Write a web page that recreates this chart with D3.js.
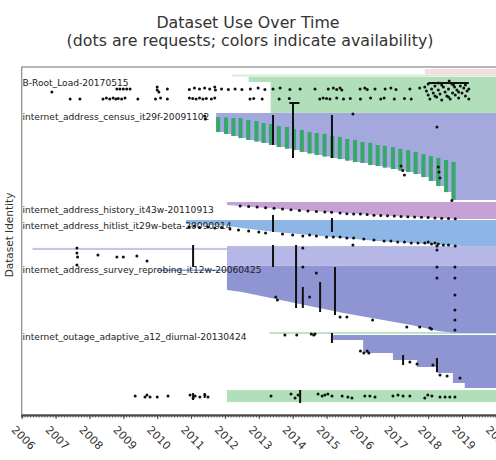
<!DOCTYPE html>
<html><head><meta charset="utf-8">
<script src="https://cdn.jsdelivr.net/npm/d3@7/dist/d3.min.js"></script>
<style>body{margin:0;background:#fff}svg{display:block}text{font-family:"DejaVu Sans",sans-serif}</style>
</head><body>
<svg id="chart" width="496" height="460"></svg>
<script>
// ---------- data ----------
const years = [2006,2007,2008,2009,2010,2011,2012,2013,2014,2015,2016,2017,2018,2019,2020];
const datasetLabels = ["B-Root_Load-20170515","internet_address_census_it29f-20091102","internet_address_history_it43w-20110913","internet_address_hitlist_it29w-beta-20090914","internet_address_survey_reprobing_it12w-20060425","internet_outage_adaptive_a12_diurnal-20130424"];
const labelRows = [5.3, 16.7, 47.7, 53.0, 67.7, 90.0];

// flat availability bands: [start, topRow, bottomRow, kind]
const flatBands = [
  [2012.2, 2.5, 3.2, "faint"],
  [2017.9, 0.7, 2.5, "pink"],
  [2012.7, 3.3, 5.0, "green"],
  [2013.35, 5.0, 15.3, "green"],
  [2006.32, 60.3, 61.0, "lavenderLine"],
  [2010.0, 67.5, 68.0, "blueLine"],
  [2012.06, 59.7, 66.3, "lavender"],
  [2013.31, 88.3, 89.0, "greenLine"],
  [2012.06, 107.7, 111.7, "green"]
];

// census versions: release date, bar top row, bottom row
const censusDates = [2011.74,2011.97,2012.19,2012.40,2012.63,2012.87,2013.08,2013.30,2013.53,2013.77,2013.98,2014.21,2014.44,2014.65,2014.88,2015.11,2015.33,2015.55,2015.78,2016.00,2016.23,2016.45,2016.66,2016.90,2017.12,2017.35,2017.57,2017.80,2018.02,2018.24,2018.47,2018.69];
const censusBarTop = [16.7,16.8,17.0,17.0,17.7,18.0,18.7,19.0,19.7,20.0,20.7,21.0,21.7,22.0,22.3,23.0,23.3,24.0,24.3,25.0,25.3,26.0,26.3,26.7,27.3,27.7,28.3,29.0,29.7,30.3,31.0,31.7];
const censusBottom = [21.7,22.3,23.0,23.7,24.3,24.8,25.3,26.0,26.7,27.2,27.7,28.3,28.8,29.3,29.8,30.3,30.7,31.2,31.7,32.0,32.7,33.0,33.5,34.0,34.5,35.0,35.7,36.7,38.0,39.7,41.7,44.3];
const censusTop = 15.3;

// sloped availability edges: [date, bottomRow]
const historyTop = 45.0;
const historyEdge = [[2012.06,46.0],[2013.0,46.8],[2014.0,47.6],[2015.0,48.3],[2016.0,49.0],[2017.0,49.7],[2018.0,50.2],[2018.9,50.7]];
const hitlistTop = 51.0;
const hitlistEdge = [[2010.85,52.3],[2012.0,52.8],[2012.5,53.7],[2013.5,55.0],[2014.5,56.0],[2015.5,57.0],[2016.5,58.0],[2017.5,58.7],[2018.5,59.3],[2019.0,59.7]];
const surveyTop = 66.3;
const surveyEdge = [[2012.06,74.3],[2012.5,75.0],[2013.5,77.3],[2014.5,79.7],[2015.5,82.0],[2016.5,84.0],[2017.5,86.0],[2018.3,88.0],[2018.8,88.7]];
const outageTop = 89.3;
const outageEdge = [[2015.19,91.0],[2016.08,95.3],[2016.96,97.7],[2017.67,100.0],[2018.26,102.0],[2018.73,105.3],[2019.08,107.0]];

// requests (dots): [date, row]
const brootRequests = [[2006.89,8.3],[2008.81,7.3],[2008.9,7.3],[2009.0,7.3],[2009.1,7.3],[2009.2,7.3],[2010.0,6.7],[2010.0,7.7],[2010.05,8.3],[2010.3,7.3],[2010.95,7.5],[2011.1,7.0],[2011.25,7.3],[2011.4,7.0],[2011.55,7.3],[2011.7,6.7],[2011.72,7.7],[2011.9,7.3],[2012.1,7.5],[2012.3,7.3],[2012.5,7.5],[2012.75,7.3],[2012.98,7.0],[2013.18,7.5],[2013.42,7.3],[2013.63,7.0],[2013.92,7.5],[2014.22,7.3],[2014.66,7.3],[2015.05,7.3],[2015.2,7.0],[2015.3,7.5],[2015.4,7.0],[2015.45,7.7],[2015.99,7.3],[2016.13,7.0],[2016.2,7.5],[2016.43,7.3],[2016.73,7.3],[2016.9,7.0],[2017.05,7.5],[2017.46,7.3],[2017.75,7.0],
 [2007.43,10.7],[2007.72,10.7],[2008.40,10.7],[2008.5,10.3],[2008.6,10.7],[2008.7,10.3],[2008.78,10.7],[2008.85,10.5],[2008.95,10.7],[2009.05,10.3],[2009.43,10.7],[2009.95,10.7],[2010.1,10.3],[2010.3,10.7],[2010.95,10.3],[2011.05,10.5],[2011.15,10.7],[2011.25,10.3],[2011.35,10.7],[2011.45,10.5],[2011.6,10.7],[2011.7,10.3],[2012.74,10.7],[2012.85,10.5],[2013.1,10.7],[2013.6,10.7],[2013.9,10.5],[2014.8,10.7],[2014.9,10.3],[2015.0,10.5],[2015.1,10.7],[2015.3,10.3],[2015.5,10.7],[2015.7,10.5],[2016.0,10.7],[2016.3,10.3],[2016.6,10.7],[2016.7,10.3],[2017.0,10.7],[2017.3,10.5],[2017.5,10.7],
 [2017.9,6.7],[2017.95,8.0],[2018.0,9.3],[2018.05,10.7],[2018.1,7.3],[2018.15,8.7],[2018.2,6.3],[2018.25,10.0],[2018.3,7.7],[2018.35,9.0],[2018.4,11.0],[2018.45,6.7],[2018.5,8.3],[2018.55,9.7],[2018.6,7.3],[2018.65,10.7],[2018.7,5.7],[2018.72,8.7],[2018.78,6.7],[2018.8,9.3],[2018.85,7.7],[2018.9,10.3],[2018.95,6.3],[2019.0,8.7],[2019.05,7.0],[2019.1,9.7],[2019.15,8.0],[2019.2,10.7],[2018.62,4.7],[2018.3,5.3],[2018.0,5.7],[2018.4,6.0],[2018.75,6.0],[2019.1,6.0],[2018.2,9.7],[2018.6,10.0],[2018.9,8.3],[2019.2,7.3]];
const censusRequests = [[2015.78,15.7],[2018.26,20.0],[2017.2,33.0],[2017.25,34.5],[2017.3,36.0],[2018.3,33.3],[2018.32,35.0],[2018.35,37.0],[2018.7,44.5],[2011.4,16.3],[2011.42,17.3]];
const historyRequests = [[2012.45,46.3],[2012.7,46.5],[2012.95,46.7],[2013.2,46.9],[2013.45,47.1],[2013.7,47.3],[2013.95,47.6],[2014.2,47.8],[2014.45,48.0],[2014.7,48.2],[2014.95,48.3],[2015.15,48.4],[2015.4,48.7],[2015.6,48.9],[2015.8,49.0],[2016.0,49.0],[2016.2,49.2],[2016.4,49.4],[2016.6,49.5],[2016.8,49.6],[2017.0,49.7],[2017.2,49.8],[2017.4,49.9],[2017.6,50.0],[2017.8,50.1],[2018.0,50.2],[2018.2,50.3],[2018.4,50.4],[2018.6,50.5],[2018.8,50.6]];
const hitlistRequests = [[2010.95,53.3],[2011.1,53.0],[2011.25,53.5],[2011.5,53.3],[2011.7,53.7],[2011.9,53.5],[2012.15,54.0],[2012.4,54.3],[2012.7,54.7],[2013.0,55.0],[2013.2,55.3],[2013.7,55.7],[2014.0,56.0],[2014.3,56.3],[2014.5,56.0],[2014.7,56.3],[2015.0,56.7],[2015.2,56.7],[2015.4,56.7],[2015.6,57.0],[2015.8,57.0],[2016.1,57.3],[2016.4,57.7],[2016.7,58.0],[2016.9,58.0],[2017.1,58.3],[2017.3,58.3],[2017.5,58.7],[2017.7,58.7],[2017.9,58.7],[2018.0,58.3],[2018.1,59.0],[2018.2,58.7],[2018.3,59.0],[2018.45,59.3],[2018.6,59.3],[2018.8,59.7],[2015.78,59.3],[2018.26,59.7]];
const surveyRequests = [[2007.63,60.3],[2007.63,62.0],[2007.65,63.3],[2007.63,66.0],[2008.25,62.7],[2008.81,63.3],[2009.0,63.3],[2009.4,63.0],[2009.7,64.7],[2018.26,61.0],[2018.26,66.7],[2018.26,70.3],[2018.79,66.7],[2018.79,70.3],[2018.79,76.0],[2018.79,81.0],[2018.79,84.3],[2018.79,87.7],[2015.4,83.3],[2015.6,83.3],[2016.36,84.3],[2017.37,86.7],[2017.75,86.7],[2018.05,87.0],[2018.1,87.3],[2013.5,76.7],[2013.55,77.7],[2014.5,76.7],[2014.7,68.7],[2014.3,60.3],[2014.3,66.7]];
const outageRequests = [[2013.77,89.3],[2014.12,89.3],[2014.55,89.0],[2014.62,89.3],[2014.66,89.0],[2016.0,94.7],[2016.1,95.3],[2016.2,94.7],[2016.25,95.3],[2017.46,98.3],[2017.67,99.0],[2018.14,99.3],[2018.35,102.7],[2018.56,103.0],[2018.94,103.7]];
const bottomRequests = [[2009.35,109.7],[2009.64,110.0],[2009.70,109.3],[2009.79,110.0],[2010.0,110.0],[2010.32,109.7],[2010.97,109.3],[2011.06,110.3],[2011.12,109.7],[2011.26,110.0],[2011.41,109.3],[2011.50,110.0],[2013.36,109.7],[2013.95,109.0],[2014.07,110.3],[2014.16,109.3],[2014.75,109.0],[2014.87,109.7],[2014.95,109.3],[2015.04,109.0],[2015.16,109.7],[2015.46,109.7],[2015.63,110.0],[2015.75,110.3],[2016.13,109.7],[2016.28,109.7],[2016.43,110.0],[2016.96,109.7],[2017.11,109.3],[2017.26,109.7],[2017.46,109.7],[2017.9,110.3],[2017.99,109.3],[2018.11,109.7],[2018.35,110.0],[2018.5,110.0],[2018.64,110.0],[2018.79,110.0]];

// bursts of requests drawn as strokes: [date1, row1, date2, row2]
const requestBursts = [[2013.42,16,2013.42,26],[2014.01,12,2014.01,30.3],[2013.9,12,2014.2,12],[2015.16,16,2015.16,30.3],
 [2013.42,49.3,2013.42,55],[2015.16,50.3,2015.16,55],
 [2011.06,59.3,2011.06,66.7],[2013.42,59.3,2013.42,66.7],[2014.1,59.3,2014.1,80.3],[2014.3,73.3,2014.3,80.3],[2014.81,71.7,2014.81,81.7],[2015.25,66.7,2015.25,82.7],
 [2015.16,88.7,2015.16,92],[2017.26,96,2017.26,99.3],[2018.26,97,2018.26,101.7],
 [2014.22,107.7,2014.22,112],[2011.06,108.7,2011.06,111],[2011.4,108.7,2011.4,110.3],
 [2018.0,5.3,2019.2,5.3]];

// ---------- styles ----------
const colors = {faint:"#d6edda", pink:"#f6dcdf", green:"#b0dfba", lavenderLine:"#c3c5ef", blueLine:"#8d9fe4",
  lavender:"#b5b7e6", greenLine:"#bde5c6", census:"#a3a8dd", censusBar:"#35a86a", history:"#c7a1d6",
  hitlist:"#8db5e5", survey:"#8f94d3", outage:"#8f94d3"};

// ---------- drawing ----------
const svg = d3.select("#chart");
const x = d3.scaleLinear().domain([2006, 2020]).range([21.7, 495.9]);
const y = d3.scaleLinear().domain([0, 116]).range([67, 415]);
const END = 2020.5;

svg.append("text").attr("x",248).attr("y",28).attr("text-anchor","middle").attr("font-size",15.8).attr("fill","#333").text("Dataset Use Over Time");
svg.append("text").attr("x",250).attr("y",46).attr("text-anchor","middle").attr("font-size",15.8).attr("fill","#333").text("(dots are requests; colors indicate availability)");

const plot = svg.append("g");
plot.append("clipPath").attr("id","clip").append("rect").attr("x",21.7).attr("y",67).attr("width",480).attr("height",348);
const g = plot.append("g").attr("clip-path","url(#clip)");

// flat bands
g.selectAll("rect.flat").data(flatBands).join("rect").attr("class","flat")
  .attr("x",d=>x(d[0])).attr("width",d=>x(END)-x(d[0]))
  .attr("y",d=>y(d[1])).attr("height",d=>y(d[2])-y(d[1]))
  .attr("fill",d=>colors[d[3]]);

// census staircase
const censusPts = censusDates.map((d,i)=>[d, censusBottom[i]]).concat([[END, censusBottom[censusBottom.length-1]]]);
const areaStep = top => d3.area().x(d=>x(d[0])).y0(y(top)).y1(d=>y(d[1])).curve(d3.curveStepAfter);
const areaLin = top => d3.area().x(d=>x(d[0])).y0(y(top)).y1(d=>y(d[1]));
g.append("path").datum(censusPts).attr("d",areaStep(censusTop)).attr("fill",colors.census);
g.selectAll("rect.cbar").data(censusDates).join("rect").attr("class","cbar")
  .attr("x",d=>x(d)).attr("width",x(2006.12)-x(2006))
  .attr("y",(d,i)=>y(censusBarTop[i])).attr("height",(d,i)=>y(censusBottom[i])-y(censusBarTop[i]))
  .attr("fill",colors.censusBar);

const withEnd = e => e.concat([[END, e[e.length-1][1]]]);
g.append("path").datum(withEnd(historyEdge)).attr("d",areaLin(historyTop)).attr("fill",colors.history);
g.append("path").datum(withEnd(hitlistEdge)).attr("d",areaLin(hitlistTop)).attr("fill",colors.hitlist);
g.append("path").datum(withEnd(surveyEdge)).attr("d",areaLin(surveyTop)).attr("fill",colors.survey);
g.append("path").datum(withEnd(outageEdge)).attr("d",areaStep(outageTop)).attr("fill",colors.outage);

// dataset labels
g.selectAll("text.lab").data(datasetLabels).join("text").attr("class","lab")
  .attr("x",22.5).attr("y",(d,i)=>y(labelRows[i])).attr("dy","0.35em")
  .attr("font-size",9.1).attr("fill","#222").text(d=>d);

// request bursts and dots
g.selectAll("line.burst").data(requestBursts).join("line").attr("class","burst")
  .attr("x1",d=>x(d[0])).attr("y1",d=>y(d[1])).attr("x2",d=>x(d[2])).attr("y2",d=>y(d[3]))
  .attr("stroke","#111").attr("stroke-width",2);
const allRequests = [].concat(brootRequests, censusRequests, historyRequests, hitlistRequests, surveyRequests, outageRequests, bottomRequests);
g.selectAll("circle.req").data(allRequests).join("circle").attr("class","req")
  .attr("cx",d=>x(d[0])).attr("cy",d=>y(d[1])).attr("r",1.5).attr("fill","#111");

// frame
svg.append("rect").attr("x",21.7).attr("y",67).attr("width",490).attr("height",348)
  .attr("fill","none").attr("stroke","#888").attr("stroke-width",1.2);

// x axis with minor monthly ticks
const minor = d3.range(2006, 2020.5, 1/12);
svg.append("g").attr("transform","translate(0,415)")
  .call(d3.axisBottom(x).tickValues(minor).tickSize(2.5).tickFormat(""))
  .call(s=>s.selectAll("line").attr("stroke","#555"))
  .call(s=>s.select(".domain").attr("stroke","#444").attr("stroke-width",2));
const ax = svg.append("g").attr("transform","translate(0,415)")
  .call(d3.axisBottom(x).tickValues(years).tickSize(4).tickFormat(d3.format("d")));
ax.select(".domain").remove();
ax.selectAll("line").attr("stroke","#444");
ax.selectAll("text").attr("font-size",11).attr("fill","#333").attr("font-family","DejaVu Sans")
  .attr("y",0).attr("dy",0).attr("text-anchor","middle").attr("dominant-baseline","central")
  .attr("transform","translate(1,23) rotate(45)");

// y label
svg.append("text").attr("transform","translate(9,235) rotate(-90)").attr("text-anchor","middle")
  .attr("dominant-baseline","central").attr("font-size",10.5).attr("fill","#333").text("Dataset Identity");
</script>
</body></html>
